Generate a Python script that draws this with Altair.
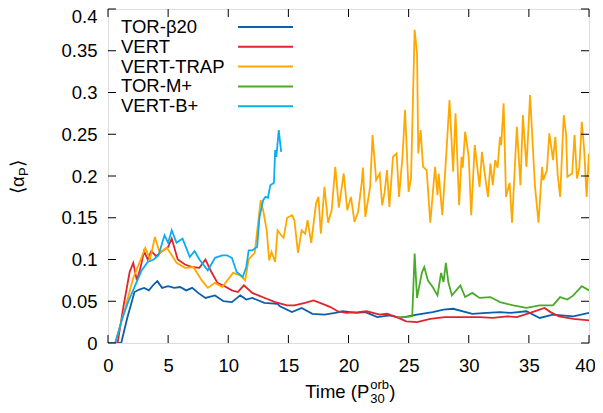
import altair as alt
import pandas as pd

SERIES = ["TOR-β20", "VERT", "VERT-TRAP", "TOR-M+", "VERT-B+"]
COLORS = ["#0b5fab", "#e1242c", "#ffa800", "#4aab2a", "#0aaef0"]

tor_t = [0, 1.1, 1.6, 2.2, 2.6, 3.0, 3.4, 3.8, 4.1, 4.5, 5.0, 5.5, 6.0, 6.5, 7.0, 7.5, 8.1, 8.9, 9.6, 10.3,
         11.0, 11.5, 12.0, 13.0, 14.1, 14.3, 15.3, 16.1, 17.0, 18.0, 18.9, 19.5, 20.7, 21.4, 22.4, 23.4, 24.3,
         25.7, 27.0, 27.9, 28.7, 30.3, 31.5, 32.6, 33.5, 34.8, 35.9, 37.0, 38.7, 40.0]
tor_v = [0, 0, 0.03, 0.061, 0.064, 0.066, 0.063, 0.07, 0.074, 0.066, 0.068, 0.066, 0.067, 0.063, 0.066, 0.06,
         0.054, 0.057, 0.05, 0.049, 0.057, 0.052, 0.054, 0.048, 0.047, 0.044, 0.037, 0.042, 0.035, 0.034, 0.036,
         0.038, 0.036, 0.037, 0.031, 0.033, 0.030, 0.034, 0.037, 0.040, 0.041, 0.035, 0.036, 0.037, 0.036, 0.038,
         0.030, 0.034, 0.032, 0.036]

vert_t = [0, 0.8, 1.3, 1.8, 2.1, 2.4, 2.7, 3.0, 3.3, 3.6, 4.0, 4.5, 5.0, 5.3, 5.8, 6.4, 7.0, 7.6, 8.1, 8.6,
          9.1, 9.7, 10.3, 10.8, 11.3, 12.0, 12.5, 13.2, 13.9, 14.9, 15.5, 16.4, 17.1, 18.0, 18.5, 19.1, 19.8,
          20.8, 21.5, 22.6, 23.2, 24.0, 24.8, 25.7, 26.8, 28.0, 29.8, 30.9, 32.0, 33.2, 34.0, 35.1, 36.3, 36.8,
          37.5, 38.7, 40.0]
vert_v = [0, 0, 0.045, 0.085, 0.096, 0.075, 0.09, 0.11, 0.1, 0.11, 0.104, 0.11, 0.115, 0.125, 0.10, 0.094,
          0.091, 0.09, 0.1, 0.085, 0.072, 0.068, 0.063, 0.061, 0.069, 0.06, 0.057, 0.053, 0.049, 0.045, 0.045,
          0.048, 0.051, 0.046, 0.043, 0.038, 0.036, 0.037, 0.038, 0.034, 0.035, 0.031, 0.026, 0.025, 0.029,
          0.031, 0.031, 0.031, 0.03, 0.032, 0.031, 0.036, 0.042, 0.037, 0.032, 0.029, 0.027]

trap_t = [0, 0.6, 1.4, 2.1, 2.8, 3.1, 3.5, 3.9, 4.3, 4.9, 5.3, 5.7, 6.4, 7.1, 7.8, 8.3, 8.9, 9.5, 10.4, 11.0,
          11.4, 11.7, 12.2, 12.7, 12.9, 13.2, 13.4, 13.6, 13.9, 14.1, 14.4, 14.6, 14.9, 15.3, 15.5, 15.8, 16.1,
          16.4, 16.6, 16.9, 17.3, 17.5, 17.7, 18.0, 18.3, 18.6, 18.9, 19.2, 19.6, 19.9, 20.2, 20.5, 20.8, 21.1,
          21.2, 21.4, 21.8, 22.0, 22.3, 22.6, 22.8, 23.0, 23.2, 23.4, 23.7, 24.0, 24.2, 24.5, 24.7, 25.0, 25.2,
          25.5, 25.7, 25.8, 26.0, 26.2, 26.5, 26.8, 27.2, 27.4, 27.5, 27.8, 28.1, 28.4, 28.7, 28.9, 29.2, 29.4,
          29.5, 29.7, 30.0, 30.2, 30.5, 30.9, 31.1, 31.4, 31.6, 31.8, 32.0, 32.2, 32.4, 32.6, 32.7, 32.9, 33.1,
          33.4, 33.6, 34.0, 34.3, 34.5, 34.8, 35.1, 35.5, 35.8, 36.1, 36.2, 36.5, 36.7, 36.9, 37.0, 37.2, 37.4,
          37.6, 37.9, 38.1, 38.2, 38.6, 38.8, 39.0, 39.2, 39.4, 39.6, 39.8, 40.0]
trap_v = [0, 0, 0.04, 0.078, 0.103, 0.114, 0.1, 0.127, 0.108, 0.114, 0.105, 0.096, 0.09, 0.091, 0.075, 0.066,
          0.072, 0.067, 0.084, 0.081, 0.075, 0.1, 0.108, 0.171, 0.159, 0.135, 0.099, 0.109, 0.097, 0.135, 0.129,
          0.126, 0.15, 0.153, 0.147, 0.108, 0.135, 0.131, 0.147, 0.12, 0.167, 0.175, 0.131, 0.187, 0.144, 0.159,
          0.211, 0.162, 0.203, 0.159, 0.175, 0.145, 0.157, 0.192, 0.21, 0.151, 0.187, 0.249, 0.195, 0.203, 0.165,
          0.18, 0.207, 0.163, 0.223, 0.227, 0.175, 0.225, 0.279, 0.181, 0.197, 0.375, 0.347, 0.227, 0.255, 0.211,
          0.207, 0.144, 0.211, 0.177, 0.203, 0.153, 0.219, 0.291, 0.205, 0.275, 0.165, 0.223, 0.21, 0.253, 0.223,
          0.153, 0.237, 0.187, 0.229, 0.195, 0.175, 0.215, 0.189, 0.219, 0.21, 0.247, 0.237, 0.287, 0.175, 0.192,
          0.144, 0.259, 0.189, 0.273, 0.211, 0.297, 0.189, 0.144, 0.211, 0.195, 0.207, 0.251, 0.231, 0.219, 0.247,
          0.201, 0.175, 0.273, 0.249, 0.199, 0.203, 0.249, 0.197, 0.21, 0.265, 0.231, 0.175, 0.227]

torm_t = [24.1, 24.7, 25.3, 25.5, 25.7, 26.1, 26.3, 26.6, 27.0, 27.4, 27.7, 27.9, 28.1, 28.3, 28.6, 29.3,
          29.7, 30.3, 30.9, 31.8, 32.6, 33.7, 34.8, 35.9, 37.0, 37.6, 38.2, 38.7, 39.4, 40.0]
torm_v = [0.031, 0.031, 0.032, 0.107, 0.054, 0.084, 0.091, 0.075, 0.067, 0.057, 0.084, 0.073, 0.096, 0.073,
          0.057, 0.069, 0.055, 0.06, 0.054, 0.055, 0.049, 0.045, 0.042, 0.045, 0.045, 0.055, 0.052, 0.057,
          0.068, 0.063]

vb_t = [0, 0.6, 1.2, 1.7, 2.2, 2.8, 3.3, 3.8, 4.2, 4.7, 5.0, 5.3, 5.7, 6.2, 6.8, 7.2, 7.6, 8.3, 8.9, 9.5,
        9.9, 10.3, 10.7, 11.2, 11.5, 11.7, 12.0, 12.4, 12.6, 12.9, 13.1, 13.3, 13.5, 13.8, 13.9, 14.0, 14.2, 14.4]
vb_v = [0, 0, 0.03, 0.05, 0.067, 0.087, 0.097, 0.1, 0.105, 0.129, 0.12, 0.135, 0.12, 0.125, 0.103, 0.11, 0.1,
        0.087, 0.102, 0.105, 0.105, 0.102, 0.085, 0.079, 0.091, 0.111, 0.111, 0.115, 0.151, 0.171, 0.175, 0.174,
        0.189, 0.192, 0.231, 0.223, 0.255, 0.229]

X_TICKS = [0, 5, 10, 15, 20, 25, 30, 35, 40]
Y_TICKS = [0, 0.05, 0.1, 0.15, 0.2, 0.25, 0.3, 0.35, 0.4]

W, H = 481, 334
FONT = "Liberation Sans"
FS = 18.5
SUB = 13

xs = alt.Scale(domain=[0, 40], nice=False, zero=False)
ys = alt.Scale(domain=[0, 0.4], nice=False)
x_axis = alt.Axis(values=X_TICKS, title=None, ticks=False, tickSize=0, domain=False, grid=False,
                  labelPadding=13, labelFont=FONT, labelFontSize=FS, labelColor="black",
                  labelOffset={"condition": {"test": "datum.value >= 39", "value": -4}, "value": 0},
                  labelFlush=False, labelOverlap=False)
y_axis = alt.Axis(values=Y_TICKS, title=None, ticks=False, tickSize=0, domain=False, grid=False,
                  labelPadding=11, labelFont=FONT, labelFontSize=FS, labelColor="black",
                  labelOffset={"condition": {"test": "datum.value >= 0.39", "value": 7}, "value": 0},
                  format=".2~f", labelOverlap=False)

layers = []
for (t, v), color in zip([(tor_t, tor_v), (vert_t, vert_v), (trap_t, trap_v), (torm_t, torm_v), (vb_t, vb_v)],
                         COLORS):
    df = pd.DataFrame({"t": t, "v": v, "i": list(range(len(t)))})
    layers.append(
        alt.Chart(df).mark_line(color=color, strokeWidth=1.8, clip=True).encode(
            x=alt.X("t:Q", scale=xs, axis=x_axis),
            y=alt.Y("v:Q", scale=ys, axis=y_axis),
            order="i:Q",
        )
    )

xt = pd.DataFrame({"t": X_TICKS})
yt = pd.DataFrame({"v": Y_TICKS})
TL = 8
layers.append(alt.Chart(xt).mark_rule(color="black", strokeWidth=1).encode(
    x=alt.X("t:Q", scale=xs, axis=x_axis), y=alt.value(H), y2=alt.value(H - TL)))
layers.append(alt.Chart(xt).mark_rule(color="black", strokeWidth=1).encode(
    x=alt.X("t:Q", scale=xs, axis=x_axis), y=alt.value(0), y2=alt.value(TL)))
layers.append(alt.Chart(yt).mark_rule(color="black", strokeWidth=1).encode(
    y=alt.Y("v:Q", scale=ys, axis=y_axis), x=alt.value(0), x2=alt.value(TL)))
layers.append(alt.Chart(yt).mark_rule(color="black", strokeWidth=1).encode(
    y=alt.Y("v:Q", scale=ys, axis=y_axis), x=alt.value(W - TL), x2=alt.value(W)))

# legend
for i, (name, color) in enumerate(zip(SERIES, COLORS)):
    ly = 18 + 19.8 * i
    layers.append(alt.Chart(pd.DataFrame({"s": [name]})).mark_text(
        align="left", baseline="middle", font=FONT, fontSize=FS, color="black").encode(
        x=alt.value(13), y=alt.value(ly), text="s:N"))
    layers.append(alt.Chart(pd.DataFrame({"s": [name]})).mark_rule(color=color, strokeWidth=2).encode(
        x=alt.value(130), x2=alt.value(185), y=alt.value(ly)))


def txt(s, x, y, size, align="left", angle=0):
    return alt.Chart(pd.DataFrame({"s": [s]})).mark_text(
        align=align, baseline="alphabetic", font=FONT, fontSize=size, color="black", angle=angle).encode(
        x=alt.value(x), y=alt.value(y), text="s:N")


# x title: Time (P^orb_30)
xb = 389
x0 = W / 2 + 1 - 45
p_end = x0 + 64.8
layers.append(txt("Time (P", p_end, xb, FS, align="right"))
layers.append(txt("orb", p_end + 1, xb - 9, SUB))
layers.append(txt("30", p_end + 1, xb + 5, SUB))
layers.append(txt(")", p_end + 20, xb, FS))

# y title: <alpha_P>
yb = -84
layers.append(txt("⟨α", yb, 185, FS, angle=270))
layers.append(txt("P", yb + 4, 167, SUB, angle=270))
layers.append(txt("⟩", yb, 158, FS, angle=270))

chart = alt.layer(*layers).properties(
    width=W, height=H,
    padding={"left": 100, "top": 1, "right": 6, "bottom": 62},
    autosize=alt.AutoSizeParams(type="none"),
).configure_view(stroke="black", strokeWidth=1.3).configure(background="white")

chart.save("out.html", embed_options={"renderer": "svg", "actions": False})
